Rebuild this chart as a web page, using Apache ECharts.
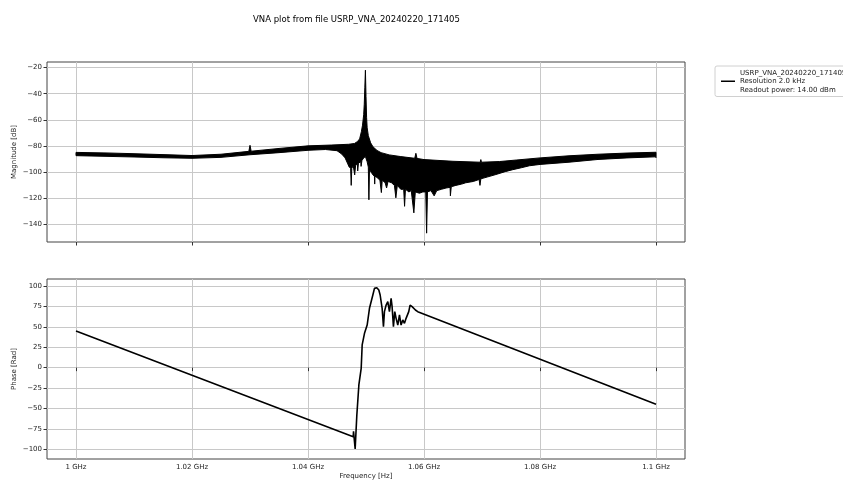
<!DOCTYPE html>
<html>
<head>
<meta charset="utf-8">
<script src="https://cdn.jsdelivr.net/npm/echarts@6/dist/echarts.min.js"></script>
<style>
  html, body { margin: 0; padding: 0; background: #fff; }
  #chart { width: 843px; height: 482px; }
</style>
</head>
<body>
<div id="chart"></div>
<script>
var magUpperFreq = [1.000, 1.005, 1.010, 1.015, 1.020, 1.025, 1.0298, 1.0300, 1.0302, 1.035, 1.040, 1.044, 1.047, 1.048,
  1.0485, 1.0489, 1.0492, 1.0494, 1.0496, 1.0497, 1.0498, 1.0499, 1.0500, 1.0501, 1.0502, 1.0504, 1.0508, 1.0512,
  1.0519, 1.0526, 1.054, 1.056, 1.0584, 1.0586, 1.0588, 1.060, 1.065, 1.0697, 1.0698, 1.0699, 1.073, 1.076, 1.080,
  1.085, 1.090, 1.095, 1.1];
var magUpper = [-84.8, -85.2, -85.8, -86.5, -87.2, -86.2, -84.0, -79.4, -83.9, -81.8, -79.8, -79.2, -78.6, -78.0,
  -76.6, -74.5, -69, -64, -56, -48, -35, -22, -42, -58, -66, -72, -77.5, -80.5,
  -83.3, -85, -86.7, -88, -89.3, -85.5, -89.4, -90.3, -91.6, -92.3, -90.3, -92.3, -91.8, -90.6, -89,
  -87.4, -86.2, -85.3, -84.7];

var magLowerFreq = [1.000, 1.005, 1.010, 1.015, 1.020, 1.025, 1.030, 1.035, 1.040, 1.043, 1.045, 1.0458, 1.0464, 1.0468,
  1.0471, 1.04735, 1.04745, 1.04755, 1.0478, 1.04805, 1.0482, 1.0485, 1.04857, 1.0487, 1.0491, 1.04915, 1.0493, 1.0496,
  1.0499, 1.0502, 1.0504, 1.0505, 1.0506, 1.0509, 1.0512, 1.05145, 1.0515, 1.05155, 1.0519, 1.0524, 1.05265, 1.0528,
  1.0533, 1.05355, 1.0538, 1.0544, 1.0549, 1.05515, 1.0554, 1.0560, 1.0565, 1.05665, 1.0568, 1.0574, 1.0578, 1.05825,
  1.0585, 1.0592, 1.0598, 1.0603, 1.06045, 1.0606, 1.0612, 1.06175, 1.0622, 1.0630, 1.0638, 1.0645, 1.06455, 1.0647,
  1.0655, 1.0665, 1.0672, 1.0685, 1.0695, 1.06965, 1.0698, 1.0710, 1.0724, 1.0740, 1.0753, 1.0768, 1.0782, 1.080,
  1.085, 1.090, 1.095, 1.0999, 1.1];
var magLower = [-87.3, -87.8, -88.3, -88.9, -89.3, -88.6, -86.6, -85.0, -83.2, -82.6, -83.5, -86, -89, -93,
  -96, -97, -110, -97, -95, -102, -95, -93, -99, -93, -92, -95.5, -91, -89,
  -88, -92, -96, -121, -98, -100, -102, -103, -109, -103, -104, -106, -115.5, -106,
  -108, -112, -107, -108, -110, -119.5, -110, -113, -113, -126, -113, -115, -114, -131,
  -115, -116, -115, -115, -146.5, -115, -114, -118, -114, -113, -112, -111.5, -118, -111,
  -110, -109, -108, -107, -105.5, -110, -105, -103.5, -101.7, -99.5, -98, -96.5, -95, -94,
  -92.3, -90.2, -89, -88.2, -88.8];

// phase trace (GHz, rad)
var phaseFreq = [1.000, 1.0478, 1.04785, 1.04813, 1.04842, 1.04877, 1.04917, 1.04934, 1.04974, 1.0502, 1.0506,
  1.05118, 1.05146, 1.05186, 1.05221, 1.05244, 1.05278, 1.05301, 1.05318, 1.05347, 1.05376, 1.05404, 1.05433,
  1.0545, 1.05473, 1.05496, 1.05519, 1.05548, 1.05577, 1.05605, 1.05634, 1.05663, 1.05691, 1.05737, 1.0576,
  1.05795, 1.05823, 1.05852, 1.05892, 1.05921, 1.1];
var phase = [44.9, -84.5, -78, -99.6, -58.0, -21.2, -0.8, 27.8, 42.1, 52.2, 72.7,
  89.0, 97.1, 97.9, 95.1, 89.0, 72.7, 50.2, 68.6, 76.7, 80.8, 68.6, 84.9,
  74.7, 50.2, 68.6, 60.4, 52.2, 64.5, 52.2, 58.4, 54.3, 60.4, 68.6, 76.7,
  74.7, 72.7, 70.6, 68.6, 66.5, -44.9];

var freqTicks = [1, 1.02, 1.04, 1.06, 1.08, 1.1];
var magTicks = [-140, -120, -100, -80, -60, -40, -20];
var phaseTicks = [-100, -75, -50, -25, 0, 25, 50, 75, 100];

var fileName = 'USRP_VNA_20240220_171405';
var legendName = fileName + '\nResolution 2.0 kHz\nReadout power: 14.00 dBm';

var font = 'DejaVu Sans';
var fs = 7;
var minus = function (v) { return String(v).replace('-', '\u2212'); };

var phaseData = [];
for (var i = 0; i < phaseFreq.length; i++) phaseData.push([phaseFreq[i], phase[i]]);

function xAxisOpt(grid, labels) {
  return {
    type: 'value', gridIndex: grid, min: 0.995, max: 1.105,
    axisLine: { show: false },
    axisTick: { show: true, length: 3.5, customValues: freqTicks, lineStyle: { color: '#333' } },
    axisLabel: {
      show: labels, customValues: freqTicks, margin: 4.5, color: '#222', fontFamily: font, fontSize: fs,
      formatter: function (v) { return (+v.toFixed(2)) + ' GHz'; }
    },
    splitLine: { show: true, lineStyle: { color: '#c8c8c8', width: 1 } },
    name: labels ? 'Frequency [Hz]' : '', nameLocation: 'middle', nameGap: 14,
    nameTextStyle: { color: '#222', fontFamily: font, fontSize: fs }
  };
}

function yAxisOpt(grid, min, max, ticks, name) {
  return {
    type: 'value', gridIndex: grid, min: min, max: max,
    axisLine: { show: false },
    axisTick: { show: true, length: 3.5, customValues: ticks, lineStyle: { color: '#333' } },
    axisLabel: { customValues: ticks, margin: 5, color: '#222', fontFamily: font, fontSize: fs, formatter: minus },
    splitLine: { show: true, lineStyle: { color: '#c8c8c8', width: 1 } },
    name: name, nameLocation: 'middle', nameGap: 29, nameMoveOverlap: false,
    nameTextStyle: { color: '#222', fontFamily: font, fontSize: fs }
  };
}

var chart = echarts.init(document.getElementById('chart'));
chart.setOption({
  animation: false,
  backgroundColor: '#fff',
  title: {
    text: 'VNA plot from file ' + fileName, left: 248, top: 10,
    textStyle: { fontFamily: font, fontSize: 8.5, fontWeight: 'normal', color: '#000' }
  },
  legend: {
    data: [{ name: legendName, icon: 'rect' }],
    left: 715, top: 66, orient: 'vertical',
    itemWidth: 14, itemHeight: 1.5, itemGap: 0,
    padding: [2.5, 4, 2.5, 6],
    borderColor: '#d0d0d0', borderWidth: 1, borderRadius: 2,
    textStyle: { fontFamily: font, fontSize: fs, color: '#222', lineHeight: 8.5 }
  },
  grid: [
    { left: 47, top: 62, width: 638, height: 180, show: true, borderColor: '#444', borderWidth: 1, outerBoundsMode: 'none' },
    { left: 47, top: 279, width: 638, height: 180, show: true, borderColor: '#444', borderWidth: 1, outerBoundsMode: 'none' }
  ],
  xAxis: [xAxisOpt(0, false), xAxisOpt(1, true)],
  yAxis: [
    yAxisOpt(0, -153.25, -15.75, magTicks, 'Magnitude [dB]'),
    yAxisOpt(1, -111.9, 108.6, phaseTicks, 'Phase [Rad]')
  ],
  series: [
    {
      name: 'magnitude', type: 'custom', xAxisIndex: 0, yAxisIndex: 0,
      data: [[1.05, -80]],
      renderItem: function (params, api) {
        var pts = [];
        for (var i = 0; i < magUpperFreq.length; i++) pts.push(api.coord([magUpperFreq[i], magUpper[i]]));
        for (var j = magLowerFreq.length - 1; j >= 0; j--) pts.push(api.coord([magLowerFreq[j], magLower[j]]));
        return { type: 'polygon', shape: { points: pts }, style: { fill: '#000', stroke: '#000', lineWidth: 1 } };
      },
      silent: true
    },
    {
      name: legendName, type: 'line', xAxisIndex: 1, yAxisIndex: 1,
      data: phaseData, showSymbol: false,
      itemStyle: { color: '#000' },
      lineStyle: { color: '#000', width: 1.6 }
    }
  ]
});
</script>
</body>
</html>
